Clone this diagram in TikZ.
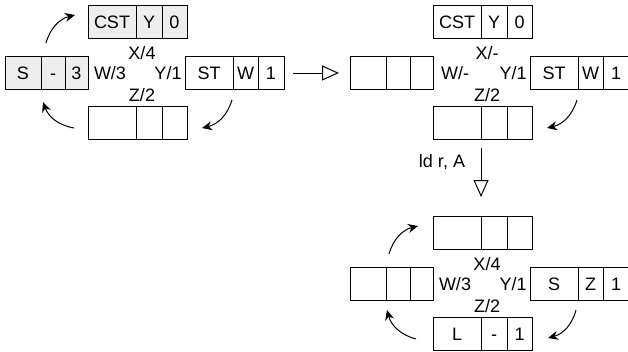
\documentclass[tikz,border=0pt]{standalone}
\usepackage{fontspec}
\setmainfont{Liberation Sans}
\usetikzlibrary{arrows.meta,positioning}

\definecolor{cellgray}{HTML}{EEEEEE}

% a box of three cells: [style]{name}{west point}{widths}{texts}
\newcommand\cellrow[9][]{%
  \node[cell,#1,minimum width=#4pt,anchor=west] (#2-1) at (#3) {#7};
  \node[cell,#1,minimum width=#5pt,right=0pt of #2-1] (#2-2) {#8};
  \node[cell,#1,minimum width=#6pt,right=0pt of #2-2] (#2-3) {#9};}

\begin{document}
\begin{tikzpicture}[x=1pt,y=-1pt,line width=1pt,
    cell/.style={draw,minimum height=33pt,inner sep=0pt,outer sep=0pt,
      text height=13pt,text depth=0pt,font=\fontsize{18}{20}\selectfont},
    shaded/.style={fill=cellgray},
    lbl/.style={inner sep=0pt,text height=13pt,text depth=0pt,
      font=\fontsize{18}{20}\selectfont},
    turn/.style={-{Stealth[length=10pt,width=9pt]},bend left=30},
    hollow/.style={-{Triangle[open,length=17pt,width=15pt]}}]
  \useasboundingbox (0,0) rectangle (628,351);

  % before
  \cellrow[shaded]{aN}{88,21.5}{48}{26}{25}{CST}{Y}{0}
  \cellrow[shaded]{aW}{5,73}{36}{24}{23}{S}{-}{3}
  \cellrow{aE}{185,73}{48}{25}{26}{ST}{W}{1}
  \cellrow{aS}{88,122.5}{48}{26}{25}{}{}{}
  \node[lbl] (a-x) at (142,53) {X/4};
  \node[lbl] (a-w) at (110,73) {W/3};
  \node[lbl] (a-y) at (168,73) {Y/1};
  \node[lbl] (a-z) at (142,95) {Z/2};
  \coordinate (a-t0) at (46,43);   \coordinate (a-t1) at (75,15);
  \coordinate (a-r0) at (232,100); \coordinate (a-r1) at (202,128);
  \coordinate (a-b0) at (74,128);  \coordinate (a-b1) at (43,102);
  \path (a-t0) edge[turn] (a-t1)
        (a-r0) edge[turn] (a-r1)
        (a-b0) edge[turn] (a-b1);

  % after the move
  \begin{scope}[shift={(345,0)}]
    \cellrow{bN}{88,21.5}{48}{26}{25}{CST}{Y}{0}
    \cellrow{bW}{5,73}{36}{24}{23}{}{}{}
    \cellrow{bE}{185,73}{48}{25}{26}{ST}{W}{1}
    \cellrow{bS}{88,122.5}{48}{26}{25}{}{}{}
    \node[lbl] (b-x) at (142,53) {X/-};
    \node[lbl] (b-w) at (110,73) {W/-};
    \node[lbl] (b-y) at (168,73) {Y/1};
    \node[lbl] (b-z) at (142,95) {Z/2};
    \coordinate (b-r0) at (232,100); \coordinate (b-r1) at (202,128);
    \path (b-r0) edge[turn] (b-r1);
  \end{scope}

  % after ld r, A
  \begin{scope}[shift={(345,211)}]
    \cellrow{cN}{88,21.5}{48}{26}{25}{}{}{}
    \cellrow{cW}{5,73}{36}{24}{23}{}{}{}
    \cellrow{cE}{185,73}{48}{25}{26}{S}{Z}{1}
    \cellrow{cS}{88,122.5}{48}{26}{25}{L}{-}{1}
    \node[lbl] (c-x) at (142,53) {X/4};
    \node[lbl] (c-w) at (110,73) {W/3};
    \node[lbl] (c-y) at (168,73) {Y/1};
    \node[lbl] (c-z) at (142,95) {Z/2};
    \coordinate (c-t0) at (44,43);   \coordinate (c-t1) at (73,15);
    \coordinate (c-r0) at (231,99);  \coordinate (c-r1) at (203,127);
    \coordinate (c-b0) at (71,128);  \coordinate (c-b1) at (42,99);
    \path (c-t0) edge[turn] (c-t1)
          (c-r0) edge[turn] (c-r1)
          (c-b0) edge[turn] (c-b1);
  \end{scope}

  \draw[hollow,shorten <=9pt,shorten >=11pt] (aE-3) -- (bW-1);
  \draw[hollow,shorten <=9pt,shorten >=19pt] (bS-1.south east) -- (cN-1.north east);
  \node[lbl] (ldra) at (442,161) {ld r, A};
\end{tikzpicture}
\end{document}
